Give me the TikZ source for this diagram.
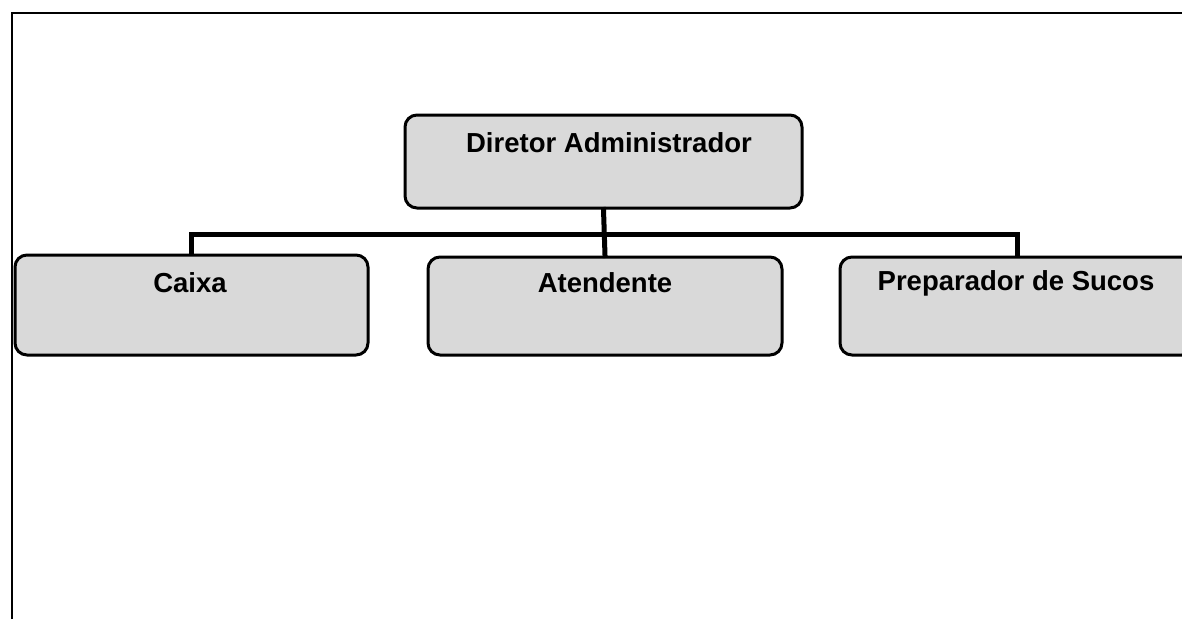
\documentclass[tikz,border=0pt]{standalone}
\usepackage{fontspec}
\setmainfont{Liberation Sans}
\begin{document}
\begin{tikzpicture}[x=1pt,y=-1pt,
  orgbox/.style={draw=black, line width=3pt, rounded corners=12pt, fill=black!15, inner sep=0pt},
  orglabel/.style={font=\fontsize{27.5}{30}\selectfont\bfseries, inner sep=0pt, anchor=center},
  conn/.style={line width=5pt, line cap=rect}]
\useasboundingbox (0,0) rectangle (1182,619);
\clip (0,0) rectangle (1182,619);
\fill[white] (0,0) rectangle (1182,619);
% frame
\draw[line width=2.6pt] (12,619) -- (12,13) -- (1190,13);
% boxes
\node[orgbox, minimum width=397pt, minimum height=93pt] (dir) at (603.5,161.5) {};
\node[orgbox, minimum width=353pt, minimum height=100pt] (caixa) at (191.5,305) {};
\node[orgbox, minimum width=354pt, minimum height=98pt] (aten) at (605,306) {};
\node[orgbox, minimum width=354pt, minimum height=98pt] (prep) at (1017,306) {};
% labels
\node[orglabel] (tdir) at (609,143) {Diretor Administrador};
\node[orglabel] (tcaixa) at (190,283) {Caixa};
\node[orglabel] (taten) at (605,283) {Atendente};
\node[orglabel] (tprep) at (1016,283) {Preparador de Sucos};
% connectors
\coordinate (bar) at (0,234);
\draw[conn] (dir.south) -- (aten.north);
\draw[conn] (caixa.north) -- (caixa.north |- bar) -- (prep.north |- bar) -- (prep.north);
\end{tikzpicture}
\end{document}
